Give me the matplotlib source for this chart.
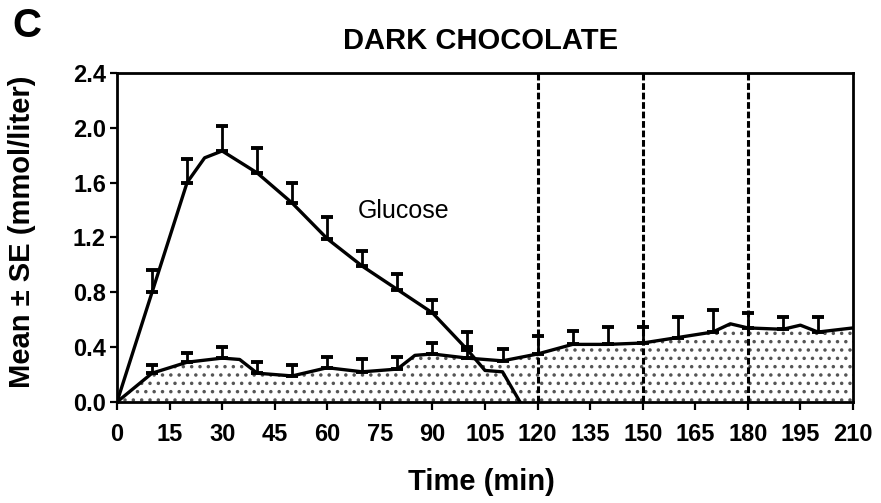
import matplotlib
matplotlib.use("Agg")
import matplotlib.pyplot as plt
import numpy as np

plt.rcParams['font.family'] = ['Liberation Sans', 'DejaVu Sans']
plt.rcParams['hatch.linewidth'] = 1.3
plt.rcParams['hatch.color'] = '#555555'

# Glucose response (mean) and upper SE
glucose_t = [0, 10, 20, 25, 30, 40, 50, 60, 70, 80, 90, 100, 105, 110, 115]
glucose_mean = [0.0, 0.80, 1.60, 1.78, 1.83, 1.67, 1.45, 1.19, 0.99, 0.82, 0.65, 0.38, 0.23, 0.22, 0.0]
glucose_se_t = [10, 20, 30, 40, 50, 60, 70, 80, 90, 100]
glucose_se_mean = [0.80, 1.60, 1.83, 1.67, 1.45, 1.19, 0.99, 0.82, 0.65, 0.38]
glucose_se = [0.16, 0.17, 0.18, 0.18, 0.15, 0.16, 0.11, 0.11, 0.09, 0.13]

# Second (shaded) response
shaded_t = [0, 10, 20, 30, 35, 40, 50, 60, 70, 80, 85, 90, 100, 110, 120, 130, 140,
            150, 160, 170, 175, 180, 190, 195, 200, 210]
shaded_mean = [0.0, 0.21, 0.29, 0.32, 0.31, 0.21, 0.19, 0.25, 0.22, 0.24, 0.34, 0.35, 0.32, 0.30,
               0.35, 0.42, 0.42, 0.43, 0.47, 0.51, 0.57, 0.54, 0.53, 0.56, 0.51, 0.54]
shaded_se_t = [10, 20, 30, 40, 50, 60, 70, 80, 90, 100, 110, 120, 130, 140, 150, 160, 170,
               180, 190, 200]
shaded_se_mean = [0.21, 0.29, 0.32, 0.21, 0.19, 0.25, 0.22, 0.24, 0.35, 0.32, 0.30, 0.35,
                  0.42, 0.42, 0.43, 0.47, 0.51, 0.54, 0.53, 0.51]
shaded_se = [0.06, 0.07, 0.08, 0.08, 0.08, 0.08, 0.09, 0.09, 0.08, 0.08, 0.09, 0.13,
             0.10, 0.13, 0.12, 0.15, 0.16, 0.11, 0.09, 0.11]

vlines_t = [120, 150, 180]
xticks = list(range(0, 211, 15))
yticks = [0.0, 0.4, 0.8, 1.2, 1.6, 2.0, 2.4]

fig = plt.figure(figsize=(8.81, 5.03), dpi=100)
ax = fig.add_axes([0.1328, 0.2008, 0.8354, 0.6545])

ax.fill_between(shaded_t, 0, shaded_mean, facecolor='white', hatch='..',
                edgecolor='#555555', linewidth=0, zorder=1)
ax.plot(shaded_t, shaded_mean, color='black', lw=2.4, zorder=3, solid_joinstyle='round')
ax.plot(glucose_t, glucose_mean, color='black', lw=2.4, zorder=3, solid_joinstyle='round')

zeros_g = np.zeros(len(glucose_se))
ax.errorbar(glucose_se_t, glucose_se_mean, yerr=[zeros_g, glucose_se], fmt='none',
            ecolor='black', elinewidth=2.0, capsize=4.5, capthick=2.8, zorder=4)
zeros_s = np.zeros(len(shaded_se))
ax.errorbar(shaded_se_t, shaded_se_mean, yerr=[zeros_s, shaded_se], fmt='none',
            ecolor='black', elinewidth=2.0, capsize=4.5, capthick=2.8, zorder=4)

for t in vlines_t:
    ax.axvline(t, color='black', lw=2.2, linestyle=(0, (2.2, 0.9)), zorder=5)

ax.set_xlim(0, 210)
ax.set_ylim(0, 2.4)
ax.set_xticks(xticks)
ax.set_xticklabels([str(v) for v in xticks])
ax.set_yticks(yticks)
ax.set_yticklabels([f"{v:.1f}" for v in yticks])

for s in ax.spines.values():
    s.set_linewidth(2.0)
    s.set_zorder(6)
ax.tick_params(axis='x', direction='out', length=6, width=1.6, labelsize=17, pad=9)
ax.tick_params(axis='y', direction='out', length=5, width=1.6, labelsize=17, pad=3)
for lab in ax.get_xticklabels() + ax.get_yticklabels():
    lab.set_fontweight('bold')

ax.text(68.6, 1.338, "Glucose", fontsize=18, va='baseline', ha='left')

fig.text(0.546, 0.918, "DARK CHOCOLATE", fontsize=21, fontweight='bold',
         ha='center', va='center')
fig.text(0.546, 0.026, "Time (min)", fontsize=21, fontweight='bold',
         ha='center', va='baseline')
fig.text(0.025, 0.540, "Mean \u00b1 SE (mmol/liter)", fontsize=21, fontweight='bold',
         rotation=90, ha='center', va='center')
fig.text(0.031, 0.948, "C", fontsize=29, fontweight='bold', ha='center', va='center')

fig.savefig("out.png", dpi=100)
